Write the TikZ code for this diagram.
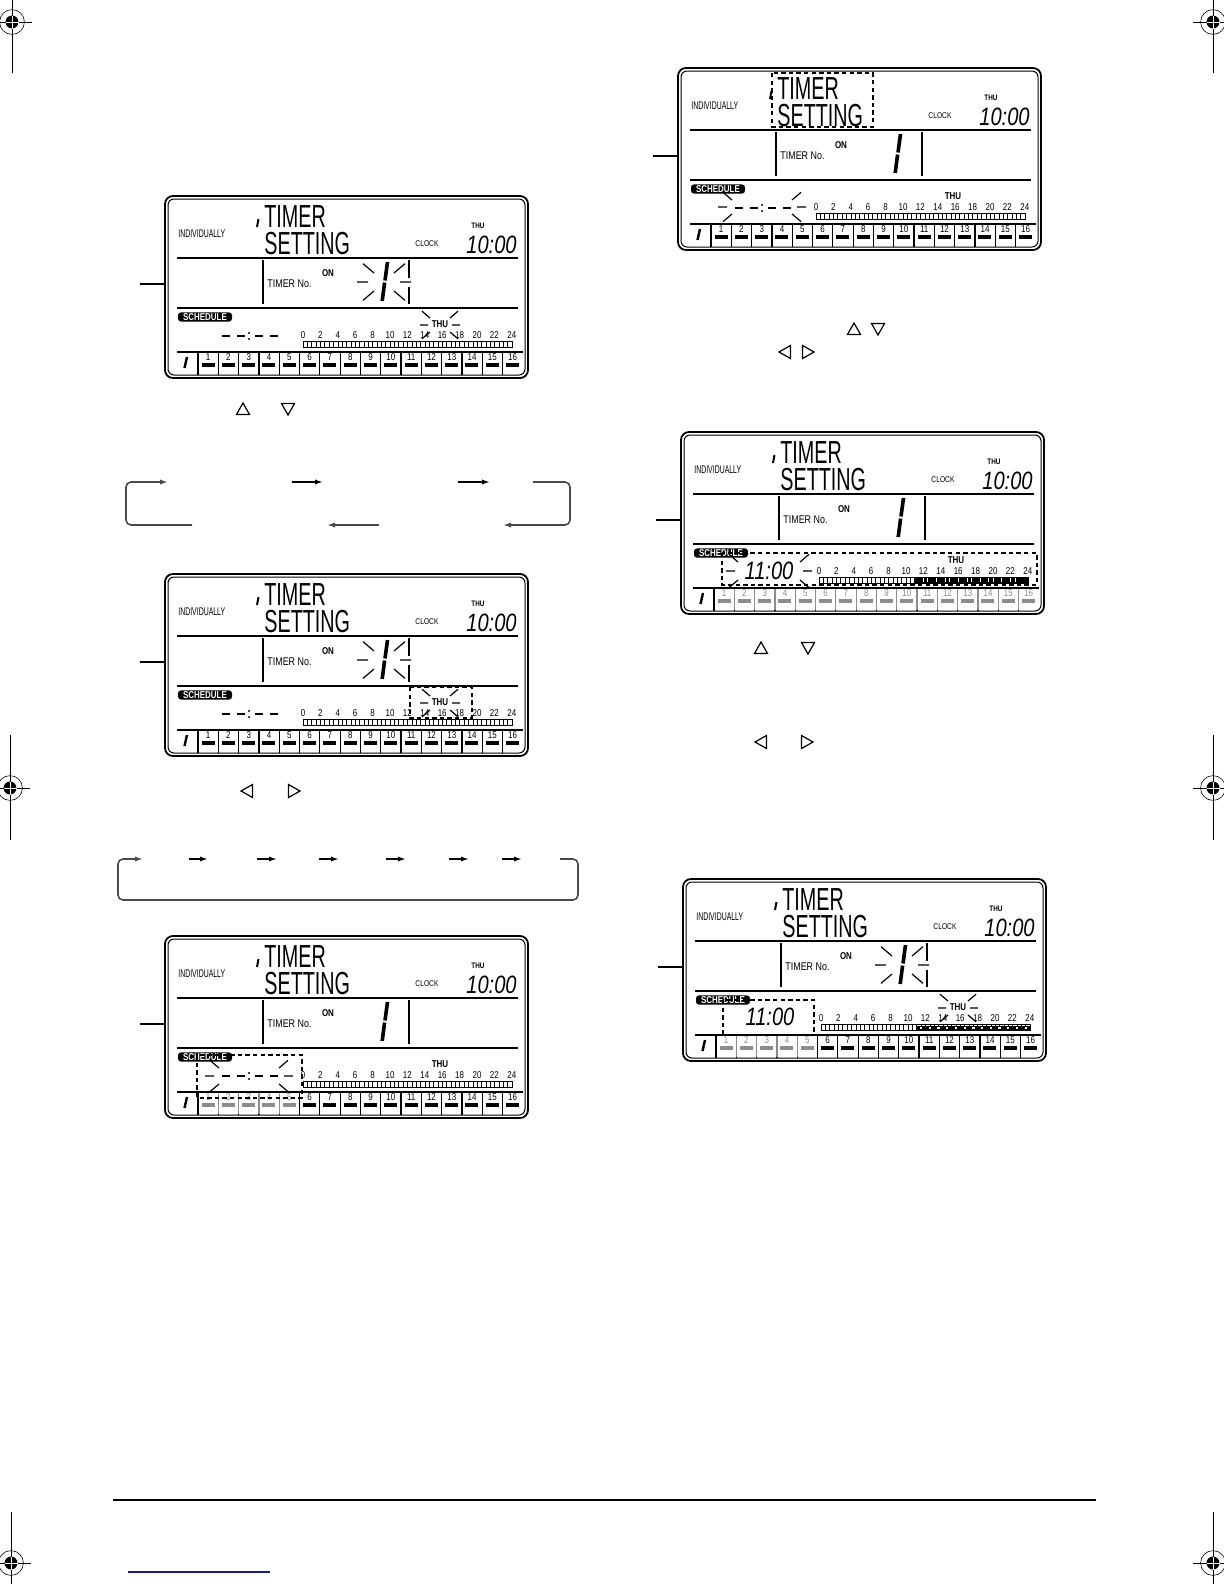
\documentclass[tikz,border=0pt]{standalone}
\usepackage{fontspec}
\usepackage{tikz}
\usetikzlibrary{arrows.meta,calc}
\setmainfont{Liberation Sans}
\newfontfamily\lcdfont[FakeStretch=0.8]{Liberation Sans}
\newfontfamily\segfont[FakeStretch=0.62]{Liberation Sans}
\definecolor{linegray}{HTML}{4A4A4A}
\definecolor{footblue}{HTML}{1A1A8C}

% one LCD screen: name, left, top, extra drawing
\newcommand{\lcdpanel}[4]{%
  \begin{scope}[shift={(#2,#3)}]
    \node[panelframe] (#1) at (181.5,91) {};
    \draw[line width=0.5bp,rounded corners=3bp] (3,3) rectangle (360,179);
    \coordinate (#1-ptr) at (-25,88);
    \draw[line width=0.7bp] (#1-ptr) -- (#1-ptr -| #1.west);
    \node[smalltxt,anchor=base west] (#1-ind) at (13,41) {\segfont INDIVIDUALLY};
    \draw[line width=1bp] (93.5,23) -- (92,31);
    \node[bigtxt,anchor=north west] (#1-title) at (99,9) {TIMER\\SETTING};
    \node[tinytxt,font=\lcdfont\bfseries\fontsize{4}{5}\selectfont] (#1-day) at (313,30) {THU};
    \node[tinytxt] (#1-clk) at (262,48) {CLOCK};
    \node[clocktxt,anchor=base east] (#1-now) at (352,57) {10:00};
    \draw[lcdline] (12,62) -- (353,62) (12,112) -- (353,112) (12,156) -- (358,156);
    \draw[lcdline] (98,64) -- (98,108);
    \node[smalltxt,anchor=base west] (#1-tno) at (102,91) {TIMER No.};
    \node[boldtxt] (#1-on) at (163,77) {ON};
    \node[schedbox] (#1-sched) at (40,121) {SCHEDULE};
    \foreach \h [count=\i from 0] in {0,2,...,24}
      \node[numtxt] (#1-h\i) at ({138+\i*17.4},139) {\h};
    \draw[line width=0.4bp] (138,145) rectangle (347,151);
    \foreach \k in {1,...,47}
      \draw[line width=0.3bp] ({138+\k*4.354},145) -- ++(0,6);
    \draw[line width=1.2bp] (22,161) -- (19.5,172);
    \foreach \c in {1,...,16} {
      \draw[line width=0.6bp] ({33+(\c-1)*20.3},156) -- ++(0,23);
      \node[numtxt] (#1-c\c) at ({43.15+(\c-1)*20.3},161) {\c};
      \fill ({36.5+(\c-1)*20.3},167) rectangle ++(13,4);
    }
    #4
  \end{scope}}

% blinking marks: cx cy w dx dy length
\newcommand{\rays}[6]{%
  \draw[ray] ({#1-#3-#6},#2) -- ({#1-#3},#2)
    ({#1+#3},#2) -- ({#1+#3+#6},#2)
    ({#1-#4},{#2-#5}) -- ({#1-#4-#6},{#2-#5-0.85*#6})
    ({#1+#4},{#2-#5}) -- ({#1+#4+#6},{#2-#5-0.85*#6})
    ({#1-#4},{#2+#5}) -- ({#1-#4-#6},{#2+#5+0.85*#6})
    ({#1+#4},{#2+#5}) -- ({#1+#4+#6},{#2+#5+0.85*#6});}
\newcommand{\digitone}{\draw[seg] (222.5,66) -- (220,84.5) (219.6,86.5) -- (217.2,105);}
\newcommand{\divfull}{\draw[lcdline] (244,64) -- (244,108);}
\newcommand{\divbroken}{\draw[lcdline] (244,64) -- (244,82) (244,91) -- (244,108);}
\newcommand{\thuday}[1]{\node[boldtxt] (#1-thu) at (275,128) {THU};}
\newcommand{\dashtime}{%
  \draw[line width=1.3bp] (57,140) -- (65,140) (72,140) -- (80,140)
    (90,140) -- (98,140) (105,140) -- (113,140);
  \fill (84,137) circle[radius=0.6bp] (84,143) circle[radius=0.6bp];}
\newcommand{\bigtime}[3]{\node[clocktxt] (#1-time) at (#2,#3) {11:00};}
\newcommand{\dimcells}[1]{\fill[white,opacity=0.55] (33.5,157) rectangle ({33+#1*20.3-0.5},178);}
\newcommand{\barfull}{%
  \fill (233.8,145) rectangle (347,151);
  \foreach \k in {24,25,27,29,30,32,34,35,37,39,40,42,44,45}
    \draw[white,line width=0.4bp] ({138+\k*4.354},146) -- ++(0,4);}
\newcommand{\barmarks}{%
  \fill (233.8,146.5) rectangle (347,151);
  \foreach \k in {23,25,...,47}
    \fill[white] ({138+\k*4.354-1.1},147.6) rectangle ++(2.2,2.3);}

\begin{document}
\begin{tikzpicture}[x=0.5bp,y=-0.5bp,
  panelframe/.style={draw,rounded corners=4bp,line width=0.9bp,inner sep=0pt,
    minimum width=181.5bp,minimum height=91bp},
  lcdline/.style={line width=1bp},
  seg/.style={line width=1.8bp},
  ray/.style={line width=0.6bp},
  dashbox/.style={draw,dash pattern=on 2.2bp off 1.6bp,line width=0.9bp},
  smalltxt/.style={font=\lcdfont\fontsize{5.6}{6}\selectfont,inner sep=0pt},
  tinytxt/.style={font=\lcdfont\fontsize{4.2}{5}\selectfont,inner sep=0pt},
  numtxt/.style={font=\lcdfont\fontsize{5}{6}\selectfont,inner sep=0pt},
  boldtxt/.style={font=\lcdfont\bfseries\fontsize{5}{6}\selectfont,inner sep=0pt},
  bigtxt/.style={font=\segfont\fontsize{16}{13.5}\selectfont,inner sep=0pt,align=left},
  clocktxt/.style={font=\lcdfont\itshape\fontsize{12.6}{13}\selectfont,inner sep=0pt},
  schedbox/.style={fill=black,text=white,rounded corners=1.5bp,inner sep=0pt,
    minimum width=27bp,minimum height=4.6bp,font=\lcdfont\bfseries\fontsize{5}{6}\selectfont},
  loopline/.style={draw=linegray,line width=0.8bp,rounded corners=2.5bp},
  regdot/.style={circle,fill=black,minimum size=6.5bp,inner sep=0pt},
  tri up/.pic={\draw[line width=0.6bp] (-6.5,5.5) -- (6.5,5.5) -- (0,-6) -- cycle;},
  tri down/.pic={\draw[line width=0.6bp] (-6.5,-5.5) -- (6.5,-5.5) -- (0,6) -- cycle;},
  tri left/.pic={\draw[line width=0.6bp] (5.5,-6.5) -- (5.5,6.5) -- (-6,0) -- cycle;},
  tri right/.pic={\draw[line width=0.6bp] (-5.5,-6.5) -- (-5.5,6.5) -- (6,0) -- cycle;},
  >={Latex[length=4bp,width=2.6bp]}]
  \useasboundingbox (0,0) rectangle (1224,1584);

  % crop marks
  \foreach \nm/\x/\y/\va/\vb/\ha/\hb in {tl/12/22/-22/51/-12/20, tr/1213/22/-22/51/-20/11,
      ml/10/788/-53/52/-10/20, mr/1213/788/-53/52/-20/11,
      bl/11/1563/-51/21/-11/20, br/1213/1563/-51/21/-20/11} {
    \node[regdot] (\nm) at (\x,\y) {};
    \draw[line width=0.5bp] (\x,{\y+\va}) -- (\x,{\y+\vb}) ({\x+\ha},\y) -- ({\x+\hb},\y);
    \draw[line width=0.3bp] (\nm.center) circle[radius=6.2bp];
    \draw[white,line width=0.5bp] ({\x-6.5},\y) -- ({\x+6.5},\y) (\x,{\y-6.5}) -- (\x,{\y+6.5});
  }

  % left column
  \lcdpanel{pa}{165}{196}{\digitone \divbroken \rays{219}{86}{16}{10}{9}{11}
    \thuday{pa} \rays{275}{129}{12}{10}{7}{8} \dashtime}
  \pic (ua) at (243,409) {tri up};
  \pic (da) at (288,409) {tri down};

  \coordinate (la0) at (192,525); \coordinate (lbl) at (126,525); \coordinate (la1) at (168,482);
  \draw[loopline,->] (la0) -- (lbl) |- (la1);
  \coordinate (lc0) at (292,482); \coordinate (lc1) at (323,482);
  \draw[loopline,draw=black,->] (lc0) -- (lc1);
  \coordinate (ld0) at (458,482); \coordinate (ld1) at (490,482);
  \draw[loopline,draw=black,->] (ld0) -- (ld1);
  \coordinate (le0) at (533,482); \coordinate (lbr) at (570,525); \coordinate (le1) at (503,525);
  \draw[loopline,->] (le0) -| (lbr) -- (le1);
  \coordinate (lf0) at (379,525); \coordinate (lf1) at (327,525);
  \draw[loopline,->] (lf0) -- (lf1);

  \lcdpanel{pb}{165}{574}{\digitone \divbroken \rays{219}{86}{16}{10}{9}{11}
    \thuday{pb} \rays{275}{129}{12}{10}{7}{8} \dashtime
    \draw[dashbox] (245,113) rectangle (307,144);}
  \pic (lb) at (247,791) {tri left};
  \pic (rb) at (294,791) {tri right};

  \coordinate (ma0) at (560,859); \coordinate (mbr) at (578,900);
  \coordinate (mbl) at (118,900); \coordinate (ma1) at (143,859);
  \draw[loopline,->] (ma0) -| (mbr) -- (mbl) |- (ma1);
  \foreach \a/\b [count=\i] in {189/208,257/277,319/339,386/406,449/469,502/522} {
    \coordinate (ms\i) at (\a,859); \coordinate (me\i) at (\b,859);
    \draw[loopline,draw=black,->] (ms\i) -- (me\i);
  }

  \lcdpanel{pc}{165}{936}{\digitone \divfull \thuday{pc} \dashtime
    \rays{84}{140}{35}{30}{8}{9} \dimcells{5}
    \draw[dashbox] (32,119) rectangle (137,162);}

  % right column
  \lcdpanel{pd}{678}{68}{\digitone \divfull \thuday{pd} \dashtime
    \rays{84}{139}{35}{30}{7}{9}
    \draw[dashbox] (94,5) rectangle (195,59);}
  \pic (uc) at (854,329) {tri up};
  \pic (dc) at (878,329) {tri down};
  \pic (lc) at (785,352) {tri left};
  \pic (rc) at (808,352) {tri right};

  \lcdpanel{pe}{681}{432}{\digitone \divfull \thuday{pe} \bigtime{pe}{88}{139}
    \rays{88}{139}{34}{31}{9}{9} \barfull \dimcells{16}
    \draw[dashbox] (41,121) rectangle (356,153);}
  \pic (ud) at (761,648) {tri up};
  \pic (dd) at (808,648) {tri down};
  \pic (ld) at (761,742) {tri left};
  \pic (rd) at (807,742) {tri right};

  \lcdpanel{pf}{683}{879}{\digitone \divbroken \rays{219}{86}{16}{10}{9}{11}
    \thuday{pf} \rays{275}{129}{12}{10}{7}{8} \bigtime{pf}{87}{138}
    \barmarks \dimcells{5}
    \draw[dashbox] (40,121) rectangle (131,156);}

  % footer
  \coordinate (fl) at (113,1500); \coordinate (fr) at (1096,1500);
  \draw[line width=1bp] (fl) -- (fr);
  \coordinate (ul0) at (128,1572); \coordinate (ul1) at (270,1572);
  \draw[footblue,line width=0.8bp] (ul0) -- (ul1);
\end{tikzpicture}
\end{document}
